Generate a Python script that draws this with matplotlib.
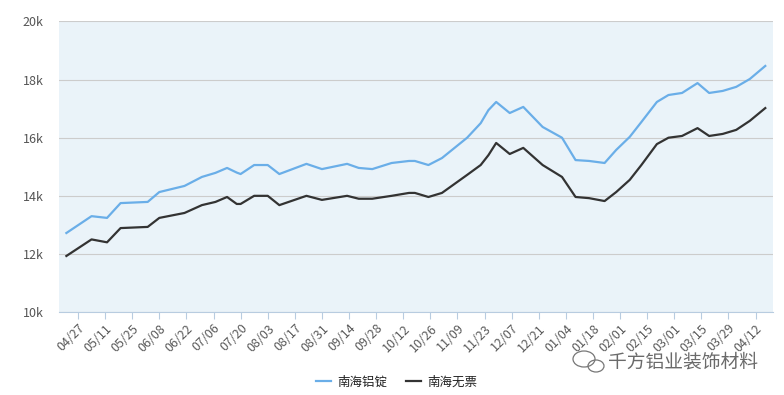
import pandas as pd
import matplotlib
matplotlib.use('Agg')
import matplotlib.pyplot as plt
import matplotlib.dates as mdates
from matplotlib.patches import Ellipse

plt.rcParams['font.family'] = ['Noto Sans CJK SC', 'DejaVu Sans']

# даты точек (читаются с картинки) и цены
dates = ['2020-04-21', '2020-05-04', '2020-05-12', '2020-05-19', '2020-06-02',
         '2020-06-08', '2020-06-21', '2020-06-30', '2020-07-07', '2020-07-13',
         '2020-07-18', '2020-07-20', '2020-07-27', '2020-08-03', '2020-08-09',
         '2020-08-23', '2020-08-31', '2020-09-13', '2020-09-19', '2020-09-26',
         '2020-10-06', '2020-10-15', '2020-10-18', '2020-10-25', '2020-11-01',
         '2020-11-14', '2020-11-21', '2020-11-25', '2020-11-29', '2020-12-06',
         '2020-12-13', '2020-12-23', '2021-01-02', '2021-01-09', '2021-01-16',
         '2021-01-24', '2021-01-30', '2021-02-06', '2021-02-12', '2021-02-20',
         '2021-02-26', '2021-03-05', '2021-03-13', '2021-03-19', '2021-03-26',
         '2021-04-02', '2021-04-09', '2021-04-17']

ingot = [12720, 13300, 13240, 13750, 13790, 14130, 14340, 14650, 14790, 14960,
         14800, 14750, 15060, 15060, 14750, 15100, 14920, 15100, 14960, 14920,
         15130, 15200, 15200, 15060, 15300, 16000, 16500, 16950, 17230, 16850,
         17060, 16370, 16000, 15230, 15200, 15130, 15580, 16030, 16540, 17230,
         17470, 17540, 17880, 17540, 17610, 17750, 18020, 18470]

no_ticket = [11930, 12500, 12400, 12890, 12930, 13240, 13410, 13680, 13790, 13960,
             13720, 13720, 14000, 14000, 13680, 14000, 13860, 14000, 13900, 13900,
             14000, 14100, 14100, 13960, 14100, 14720, 15060, 15400, 15820, 15440,
             15650, 15060, 14650, 13960, 13920, 13820, 14130, 14550, 15060, 15780,
             16000, 16060, 16330, 16060, 16130, 16270, 16580, 17020]

x = pd.to_datetime(dates)
ticks = pd.date_range('2020-04-27', periods=26, freq='14D')

fig = plt.figure(figsize=(7.84, 3.95), dpi=100)
ax = fig.add_axes([0.0753, 0.210, 0.9107, 0.7356])
ax.set_facecolor('#eaf3f9')

ax.plot(x, ingot, color='#6aaee8', lw=1.6, label='南海铝锭', solid_joinstyle='round')
ax.plot(x, no_ticket, color='#333333', lw=1.6, label='南海无票', solid_joinstyle='round')

ax.set_ylim(10000, 20000)
ax.set_yticks([10000, 12000, 14000, 16000, 18000, 20000])
ax.set_yticklabels(['10k', '12k', '14k', '16k', '18k', '20k'])
ax.yaxis.grid(True, color='#cccccc', lw=0.8)
ax.set_axisbelow(True)

ax.set_xlim(pd.Timestamp('2020-04-17 05:00'), pd.Timestamp('2021-04-21'))
ax.set_xticks(ticks)
ax.xaxis.set_major_formatter(mdates.DateFormatter('%m/%d'))
plt.setp(ax.get_xticklabels(), rotation=45, ha='right', rotation_mode='anchor')

for s in ['top', 'right', 'left']:
    ax.spines[s].set_visible(False)
ax.spines['bottom'].set_color('#b8cce0')
ax.tick_params(axis='x', colors='#b8cce0', labelcolor='#5a5a5a', labelsize=9, length=5, pad=2)
ax.tick_params(axis='y', length=0, labelcolor='#555555', labelsize=9, pad=11)

fig.legend(loc='center', bbox_to_anchor=(0.506, 0.033), ncol=2, frameon=False,
           fontsize=9, handlelength=1.2, columnspacing=1.5, handletextpad=0.5,
           labelcolor='#222222')

# водяной знак
fig.text(0.967, 0.0835, '千方铝业装饰材料', ha='right', va='center', fontsize=13.5,
         color='#6a6a6a')
fig.add_artist(Ellipse((584 / 784, 1 - 359 / 395), 22 / 784, 16 / 395,
                       transform=fig.transFigure, fill=False, ec='#777777', lw=0.9))
fig.add_artist(Ellipse((596 / 784, 1 - 366 / 395), 16 / 784, 12 / 395,
                       transform=fig.transFigure, fill=False, ec='#777777', lw=0.9))

plt.savefig('out.png', dpi=100)
